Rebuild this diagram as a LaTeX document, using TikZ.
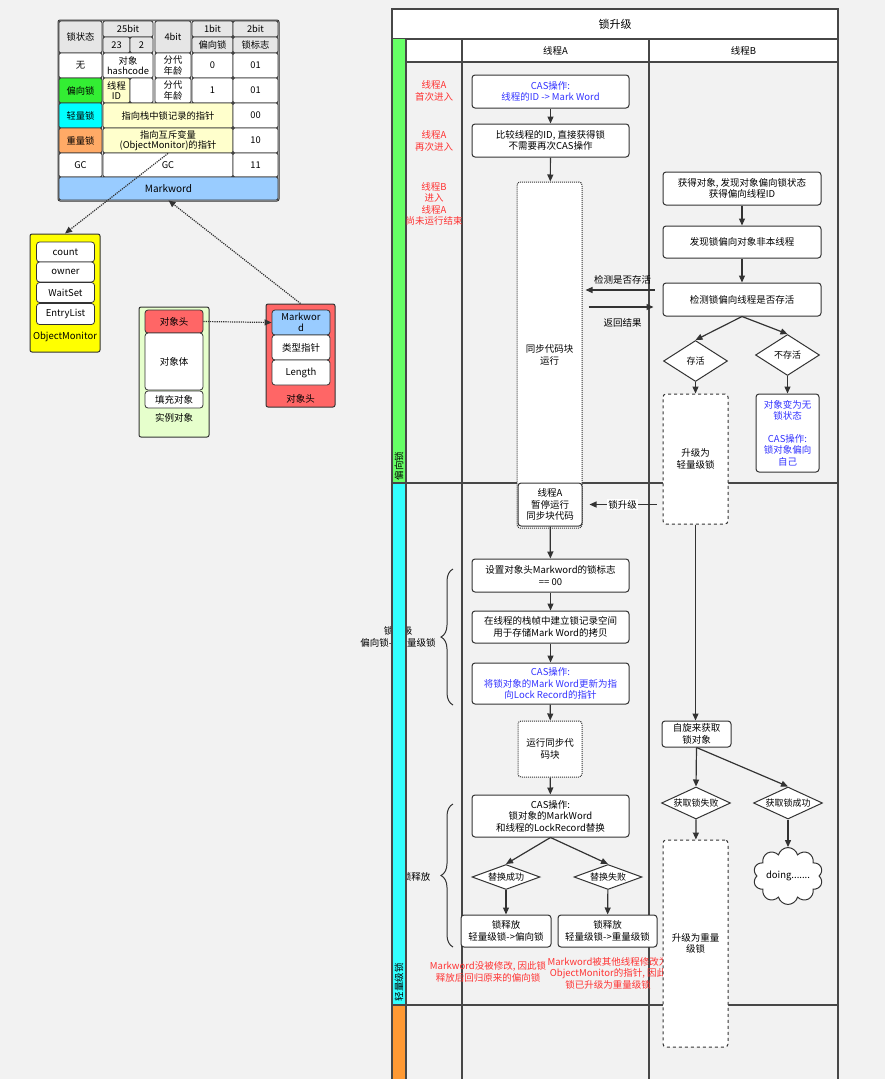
\documentclass[tikz,border=0pt]{standalone}
\usepackage{fontspec}
\setmainfont{Noto Sans CJK SC}
\usepackage{tikz}
\usetikzlibrary{arrows.meta,calc,shapes.geometric,shapes.symbols,decorations.pathreplacing}
\definecolor{bgc}{HTML}{F2F2F2}
\definecolor{linec}{HTML}{333333}
\definecolor{headc}{HTML}{E6E6E6}
\definecolor{tgreen}{HTML}{33EE33}
\definecolor{tcyan}{HTML}{00FFFF}
\definecolor{torange}{HTML}{FFAA66}
\definecolor{tyellow}{HTML}{FFFFCC}
\definecolor{tblue}{HTML}{99CCFF}
\definecolor{objred}{HTML}{FF6666}
\definecolor{objgreen}{HTML}{E6FFCC}
\definecolor{monyellow}{HTML}{FFFF00}
\definecolor{stripgreen}{HTML}{66FF66}
\definecolor{stripcyan}{HTML}{33FFFF}
\definecolor{striporange}{HTML}{FF9933}
\definecolor{notered}{HTML}{FF3333}
\definecolor{casblue}{HTML}{3333FF}
\tikzset{
  tcell/.style={draw=linec, line width=0.8pt, rounded corners=2pt, inner sep=0pt, align=center, font=\fontsize{9.3}{10.5}\selectfont},
  frame/.style={draw=linec, line width=1pt, rounded corners=2pt},
  item/.style={draw=linec, line width=0.8pt, rounded corners=3pt, fill=white, minimum width=58pt, minimum height=20pt, inner sep=0pt, align=center},
  stepbox/.style={draw=linec, line width=1pt, rounded corners=3pt, fill=white, minimum width=157pt, minimum height=33pt, inner sep=1pt, align=center},
  dotbox/.style={stepbox, densely dotted, minimum width=64pt},
  dashbox/.style={stepbox, dashed, minimum width=65pt},
  decision/.style={diamond, aspect=2.7, draw=linec, line width=1pt, fill=white, inner sep=0pt, minimum width=68pt, minimum height=25pt, font=\fontsize{9}{11}\selectfont},
  arr/.style={draw=linec, line width=1.2pt, -{Triangle[length=7pt,width=6pt]}},
  dotarr/.style={arr, densely dotted},
  lane/.style={draw=linec!90, line width=1.5pt},
  rednote/.style={text=notered, align=center},
  bracket/.style={draw=linec, line width=1pt, decorate, decoration={brace, amplitude=12pt}}
}
\newcommand{\tcell}[7]{%
  \node[tcell, fill=#6, minimum width={(#4-#2)*1pt}, minimum height={(#5-#3)*1pt}] (#1) at ({(#2+#4)/2},{(#3+#5)/2}) {#7};}
\def\stepnode{\node[stepbox]}
\def\decnode{\node[decision]}

\begin{document}
\begin{tikzpicture}[x=1pt,y=-1pt,font=\fontsize{9.5}{11.5}\selectfont]
\useasboundingbox[fill=bgc] (0,0) rectangle (885,1079);

% markword table
\draw[frame, fill=headc] (58,20) rectangle (279,201);
\tcell{hState}{59}{21}{102}{53}{headc}{锁状态}
\tcell{h25}{103}{21}{153}{37}{headc}{25bit}
\tcell{h23}{103}{37}{130}{53}{headc}{23}
\tcell{h2}{130}{37}{153}{53}{headc}{2}
\tcell{h4}{155}{21}{191}{53}{headc}{4bit}
\tcell{h1}{192}{21}{233}{37}{headc}{1bit}
\tcell{hBias}{192}{37}{233}{53}{headc}{偏向锁}
\tcell{h2b}{233}{21}{278}{37}{headc}{2bit}
\tcell{hFlag}{233}{37}{278}{53}{headc}{锁标志}
\tcell{rNone}{59}{53}{102}{78}{white}{无}
\tcell{rHash}{103}{53}{153}{78}{white}{对象\\hashcode}
\tcell{rAge}{155}{53}{191}{78}{white}{分代\\年龄}
\tcell{rBit0}{192}{53}{233}{78}{white}{0}
\tcell{rFlag0}{233}{53}{278}{78}{white}{01}
\tcell{rBias}{59}{78}{102}{103}{tgreen}{偏向锁}
\tcell{rTid}{103}{78}{130}{103}{tyellow}{线程\\ID}
\tcell{rEpoch}{130}{78}{153}{103}{white}{}
\tcell{rAge1}{155}{78}{191}{103}{white}{分代\\年龄}
\tcell{rBit1}{192}{78}{233}{103}{white}{1}
\tcell{rFlag1}{233}{78}{278}{103}{white}{01}
\tcell{rLight}{59}{103}{102}{128}{tcyan}{轻量锁}
\tcell{rLr}{103}{103}{233}{128}{tyellow}{指向栈中锁记录的指针}
\tcell{rFlag2}{233}{103}{278}{128}{white}{00}
\tcell{rHeavy}{59}{128}{102}{153}{torange}{重量锁}
\tcell{rMon}{103}{128}{233}{153}{tyellow}{指向互斥变量\\(ObjectMonitor)的指针}
\tcell{rFlag3}{233}{128}{278}{153}{white}{10}
\tcell{rGc}{59}{153}{102}{177}{white}{GC}
\tcell{rGcBits}{103}{153}{233}{177}{white}{GC}
\tcell{rFlag4}{233}{153}{278}{177}{white}{11}
\tcell{mw}{59}{177}{278}{200}{tblue}{\fontsize{10}{12}\selectfont Markword}

% object monitor, object, header
\node[frame, fill=monyellow, minimum width=70pt, minimum height=118pt] (om) at (65,293) {};
\node[item] (omCount) at (65.5,252) {count};
\node[item] (omOwner) at (65.5,272) {owner};
\node[item] (omWait) at (65.5,292.5) {WaitSet};
\node[item, minimum height=21pt] (omEntry) at (65.5,314) {EntryList};
\node (omLabel) at (65,337) {ObjectMonitor};

\node[frame, fill=objgreen, minimum width=70pt, minimum height=130pt] (obj) at (174,372) {};
\node[item, fill=objred, minimum height=23pt] (objHead) at (174,321.5) {对象头};
\node[item, minimum height=57pt] (objBody) at (174,361.5) {对象体};
\node[item, minimum height=17pt] (objPad) at (174,399.5) {填充对象};
\node (objLabel) at (174,418) {实例对象};

\node[frame, fill=objred, minimum width=69pt, minimum height=103pt] (hdr) at (300.5,355.5) {};
\node[item, fill=tblue, minimum height=25pt] (hdrMw) at (301,322.5) {Markwor\\d};
\node[item, minimum height=25pt] (hdrKlass) at (301,347.5) {类型指针};
\node[item, minimum height=25pt] (hdrLen) at (301,372.5) {Length};
\node (hdrLabel) at (300.5,399) {对象头};

\draw[dotarr] (rMon.south) -- (om.north);
\draw[dotarr] (hdr.north) -- (mw.south);
\draw[dotarr] (objHead.east) -- (hdrMw.west);

% labels under the lane strip
\node[align=center] (lblUp) at (398,637) {锁升级\\偏向锁->轻量级锁};
\node (lblRel) at (416,877) {锁释放};

% swimlane
\draw[lane, fill=white] (392,9) rectangle (838,39);
\node (title) at (615,24) {\fontsize{11}{13}\selectfont 锁升级};
\fill[stripgreen] (392,39) rectangle (406,483);
\fill[stripcyan] (392,483) rectangle (406,1005);
\fill[striporange] (392,1005) rectangle (406,1085);
\draw[lane, fill=white] (406,39) rectangle (838,62);
\draw[lane] (392,39) -- (392,1085) (406,39) -- (406,1085) (462,39) -- (462,1085)
  (649,39) -- (649,1085) (838,39) -- (838,1085);
\draw[lane] (392,483) -- (838,483) (392,1005) -- (838,1005);
\node (colA) at (555.5,50.5) {线程A};
\node (colB) at (743.5,50.5) {线程B};
\node[rotate=90] (laneBias) at (399,466) {偏向锁};
\node[rotate=90] (laneLight) at (399,982) {轻量级锁};

\node[rednote] (lblFirst) at (434,91) {线程A\\首次进入};
\node[rednote] (lblAgain) at (434,141) {线程A\\再次进入};
\node[rednote] (lblB) at (434,204) {线程B\\进入\\线程A\\尚未运行结束};

% thread A
\stepnode (casA) at (550.5,91.5) {\color{casblue}CAS操作:\\\color{casblue}线程的ID -> Mark Word};
\stepnode (cmpA) at (550.5,140.5) {比较线程的ID, 直接获得锁\\不需要再次CAS操作};
\node[dotbox, minimum width=65pt, minimum height=346pt] (syncA) at (549.5,355) {同步代码块\\运行};
\stepnode (pauseA) [minimum width=64pt, minimum height=43pt] at (550,504.5) {线程A\\暂停运行\\同步块代码};
\stepnode (setA) at (550.5,575.5) {设置对象头Markword的锁标志\\== 00};
\stepnode (lrA) [minimum height=32pt] at (550.5,627) {在线程的栈帧中建立锁记录空间\\用于存储Mark Word的拷贝};
\stepnode (casLR) [minimum height=41pt] at (550.5,683.5) {\color{casblue}CAS操作:\\\color{casblue}将锁对象的Mark Word更新为指\\\color{casblue}向Lock Record的指针};
\node[dotbox, minimum height=56pt] (runA) at (550,749) {运行同步代\\码块};
\stepnode (relCas) [minimum height=42pt] at (550.5,816) {CAS操作:\\锁对象的MarkWord\\和线程的LockRecord替换};
\decnode (okD) at (506,877) {替换成功};
\decnode (failD) at (608,877) {替换失败};
\stepnode (relBias) [minimum width=90pt, minimum height=32pt] at (506,931) {锁释放\\轻量级锁->偏向锁};
\stepnode (relHeavy) [minimum width=99pt, minimum height=32pt] at (607.5,931) {锁释放\\轻量级锁->重量级锁};
\node[rednote] (note1) at (488,972) {Markword没被修改, 因此锁\\释放后回归原来的偏向锁};
\node[rednote] (note2) at (608,973) {Markword被其他线程修改为\\ObjectMonitor的指针, 因此\\锁已升级为重量级锁};

\draw[arr] (casA) -- (cmpA);
\draw[arr] (cmpA) -- (syncA);
\draw[arr] (pauseA) -- (setA);
\draw[arr] (setA) -- (lrA);
\draw[arr] (lrA) -- (casLR);
\draw[arr] (casLR) -- (runA);
\draw[arr] (runA) -- (relCas);
\draw[arr] (relCas.south) -- (okD.north);
\draw[arr] (relCas.south) -- (failD.north);
\draw[arr] (okD) -- (relBias);
\draw[arr] (failD) -- (relHeavy);

\draw[bracket] (453,705) -- (453,569);
\draw[bracket] (453,947) -- (453,804);

% thread B
\stepnode (getB) [minimum width=158pt] at (742,188.5) {获得对象, 发现对象偏向锁状态\\获得偏向线程ID};
\stepnode (notSelf) [minimum width=158pt, minimum height=32pt] at (742,242) {发现锁偏向对象非本线程};
\stepnode (checkB) [minimum width=158pt] at (742,299.5) {检测锁偏向线程是否存活};
\decnode (aliveD) [aspect=1.56, minimum width=64pt, minimum height=41pt] at (695.5,361) {存活};
\decnode (deadD) [aspect=1.56, minimum width=64pt, minimum height=41pt] at (787.5,355) {不存活};
\node[dashbox, minimum height=130pt] (toLight) at (695.5,459) {升级为\\轻量级锁};
\stepnode (toNone) [minimum width=63pt, minimum height=78pt, text=casblue] at (787.5,433) {对象变为无\\锁状态\\[11pt]CAS操作:\\锁对象偏向\\自己};
\stepnode (spinB) [minimum width=69pt, minimum height=26pt] at (696.5,734) {自旋来获取\\锁对象};
\decnode (failGetD) [aspect=2.15, minimum width=69pt, minimum height=32pt] at (696,803) {获取锁失败};
\decnode (okGetD) [aspect=2.15, minimum width=69pt, minimum height=32pt] at (788,803) {获取锁成功};
\node[dashbox, minimum height=207pt] (toHeavy) at (695.5,943.5) {升级为重量\\级锁};
\node[cloud, cloud puffs=10, aspect=1.4, draw=linec, line width=1pt, fill=white, inner sep=0pt, minimum width=68pt, minimum height=50pt] (doing) at (788,876) {doing.......};

\draw[arr] (getB) -- (notSelf);
\draw[arr] (notSelf) -- (checkB);
\draw[arr] (checkB.south) -- (aliveD.north);
\draw[arr] (checkB.south) -- (deadD.north);
\draw[arr] (aliveD) -- (toLight);
\draw[arr] (deadD) -- (toNone);
\draw[arr, shorten <=8pt, shorten >=3pt] ($(checkB.west)+(0,-9.5)$) -- ($(syncA.east |- checkB.west)+(0,-9.5)$)
  node[midway, above=2pt] {检测是否存活};
\draw[arr, shorten <=6pt, shorten >=9pt] ($(syncA.east |- checkB.west)+(0,7.5)$) -- ($(checkB.west)+(0,7.5)$)
  node[midway, below=8pt] {返回结果};
\draw[arr, shorten <=6pt, shorten >=7pt] (toLight.west |- pauseA.east) -- (pauseA.east)
  node[midway, fill=white, inner sep=1pt] {锁升级};
\draw[arr] (toLight.south) -- (toLight.south |- spinB.north);
\draw[arr] (spinB.south) -- (failGetD.north);
\draw[arr] (spinB.south) -- (okGetD.north);
\draw[arr] (failGetD) -- (toHeavy);
\draw[arr] (okGetD.south) -- (doing.north);
\end{tikzpicture}
\end{document}
